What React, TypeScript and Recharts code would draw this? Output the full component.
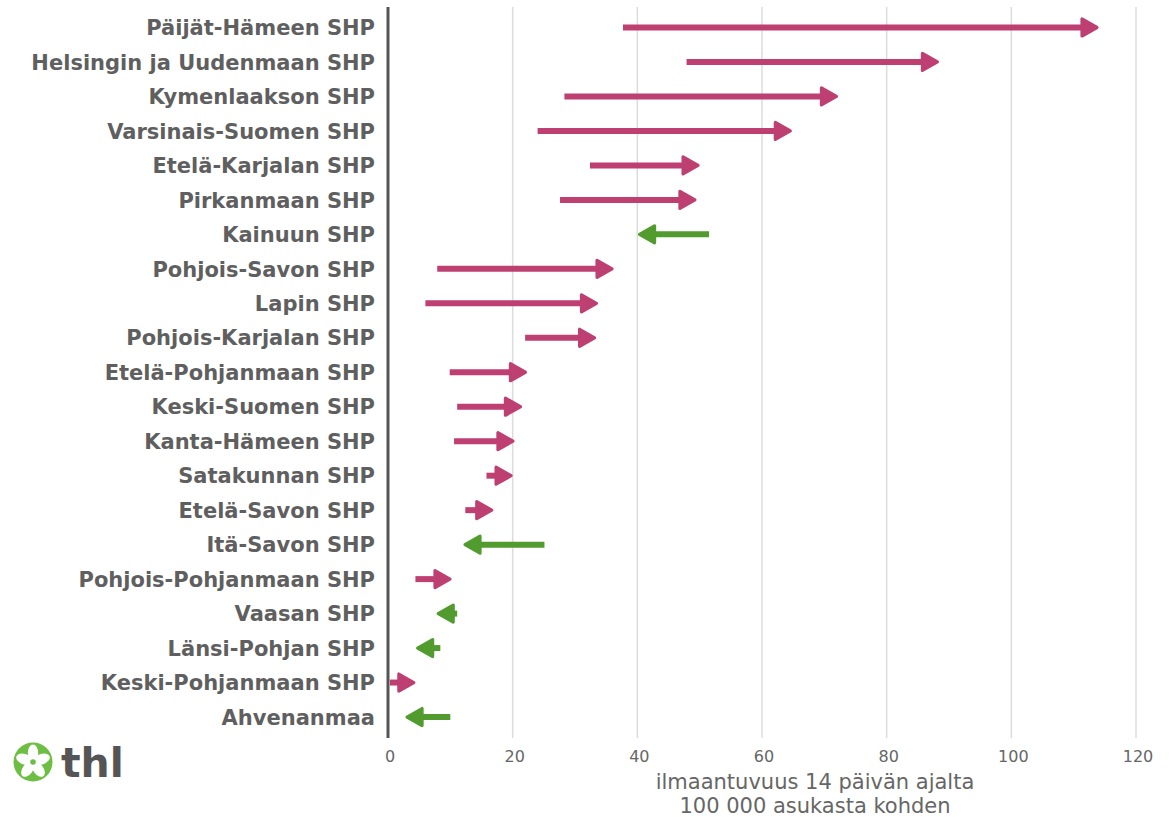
import React from "react";
import { BarChart, Bar, XAxis, YAxis, CartesianGrid } from "recharts";

const regions = [
  "Päijät-Hämeen SHP",
  "Helsingin ja Uudenmaan SHP",
  "Kymenlaakson SHP",
  "Varsinais-Suomen SHP",
  "Etelä-Karjalan SHP",
  "Pirkanmaan SHP",
  "Kainuun SHP",
  "Pohjois-Savon SHP",
  "Lapin SHP",
  "Pohjois-Karjalan SHP",
  "Etelä-Pohjanmaan SHP",
  "Keski-Suomen SHP",
  "Kanta-Hämeen SHP",
  "Satakunnan SHP",
  "Etelä-Savon SHP",
  "Itä-Savon SHP",
  "Pohjois-Pohjanmaan SHP",
  "Vaasan SHP",
  "Länsi-Pohjan SHP",
  "Keski-Pohjanmaan SHP",
  "Ahvenanmaa",
];

// previous 14-day incidence per 100 000
const startValues = [
  37.7, 47.9, 28.3, 24.0, 32.4, 27.6, 51.5, 7.9, 6.0, 22.0, 9.9, 11.1, 10.6,
  15.8, 12.4, 25.1, 4.4, 11.1, 8.4, 0.3, 10.0,
];
// current 14-day incidence per 100 000
const endValues = [
  114.0, 88.4, 72.2, 64.8, 50.0, 49.5, 40.1, 36.2, 33.7, 33.4, 22.3, 21.5,
  20.3, 20.0, 16.9, 12.1, 10.2, 7.8, 4.5, 4.4, 2.8,
];

const xTicks = [0, 20, 40, 60, 80, 100, 120];
const titleLines = ["ilmaantuvuus 14 päivän ajalta", "100 000 asukasta kohden"];

const MAGENTA = "#BE3F72";
const GREEN = "#519B2F";
const TEXT = "#5f5f5f";
const FONT = "'DejaVu Sans', sans-serif";

const data = regions.map((name, i) => ({
  name,
  start: startValues[i],
  end: endValues[i],
}));

const Arrow = (props: any) => {
  const { x, y, width, height, payload } = props;
  if (x == null || y == null) return null;
  const cy = y + height / 2;
  const up = payload.end >= payload.start;
  const color = up ? MAGENTA : GREEN;
  const left = x;
  const right = x + width;
  const tip = up ? right : left;
  const tail = up ? left : right;
  const dir = up ? 1 : -1;
  const headLen = 15;
  const half = 8.5;
  const tipIn = tip - dir * 1.6;
  const base = tipIn - dir * headLen;
  const lineEnd = base + dir * 3;
  const hasLine = (lineEnd - tail) * dir > 0;
  return (
    <g>
      {hasLine && (
        <line
          x1={tail}
          y1={cy}
          x2={lineEnd}
          y2={cy}
          stroke={color}
          strokeWidth={6}
        />
      )}
      <polygon
        points={`${tipIn},${cy} ${base},${cy - half} ${base},${cy + half}`}
        fill={color}
        stroke={color}
        strokeWidth={3.2}
        strokeLinejoin="round"
      />
    </g>
  );
};

const TitleLabel = (props: any) => {
  const vb = props.viewBox || {};
  const top = vb.y || 0;
  return (
    <g>
      <text
        x={815}
        y={top + 51}
        textAnchor="middle"
        fontFamily={FONT}
        fontSize={21}
        fill="#666666"
      >
        {titleLines[0]}
      </text>
      <text
        x={815}
        y={top + 75}
        textAnchor="middle"
        fontFamily={FONT}
        fontSize={21}
        fill="#666666"
      >
        {titleLines[1]}
      </text>
    </g>
  );
};

const Logo = () => (
  <svg
    width={140}
    height={60}
    style={{ position: "absolute", left: 0, top: 732 }}
  >
    <circle cx={33} cy={30} r={19.5} fill="#6ebe44" />
    {[0, 72, 144, 216, 288].map((a) => (
      <ellipse
        key={a}
        cx={33}
        cy={21}
        rx={5.2}
        ry={8.5}
        fill="#ffffff"
        transform={`rotate(${a} 33 30)`}
      />
    ))}
    <circle cx={33} cy={30} r={2.8} fill="#6ebe44" />
    <text
      x={61}
      y={45}
      fontFamily={FONT}
      fontWeight="bold"
      fontSize={41}
      fill="#555555"
    >
      thl
    </text>
  </svg>
);

export default function App() {
  return (
    <div
      style={{
        position: "absolute",
        left: 0,
        top: 0,
        width: 1169,
        height: 817,
        background: "#fff",
      }}
    >
      <BarChart
        width={1169}
        height={817}
        data={data}
        layout="vertical"
        margin={{ top: 7, right: 33, bottom: 0, left: 0 }}
        barCategoryGap={0}
      >
        <CartesianGrid
          horizontal={false}
          vertical={true}
          stroke="#dcdcdc"
          strokeWidth={1.5}
        />
        <XAxis
          type="number"
          domain={[0, 120]}
          ticks={xTicks}
          axisLine={false}
          tickLine={false}
          tickSize={0}
          tickMargin={13}
          height={79}
          tick={{ fontFamily: FONT, fontSize: 16, fill: "#666666", dx: 2 }}
          label={<TitleLabel />}
        />
        <YAxis
          type="category"
          dataKey="name"
          width={388}
          padding={{ top: 3.5, bottom: 3.5 }}
          axisLine={{ stroke: "#555555", strokeWidth: 3 }}
          tickLine={false}
          tickSize={0}
          tickMargin={13}
          interval={0}
          tick={{
            fontFamily: FONT,
            fontSize: 21,
            fontWeight: "bold",
            fill: TEXT,
          }}
        />
        <Bar
          dataKey={(d: any) => [
            Math.min(d.start, d.end),
            Math.max(d.start, d.end),
          ]}
          shape={<Arrow />}
          isAnimationActive={false}
        />
      </BarChart>
      <Logo />
    </div>
  );
}
